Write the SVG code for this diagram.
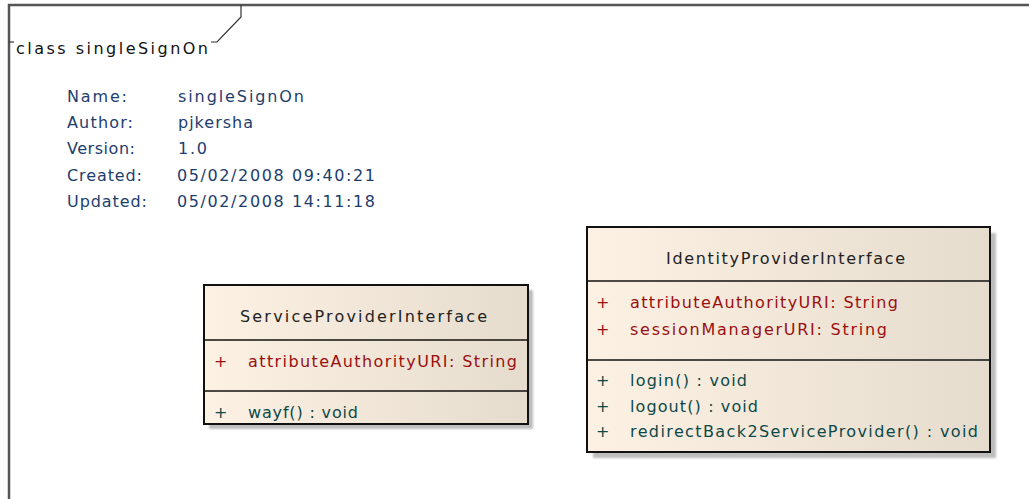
<svg xmlns="http://www.w3.org/2000/svg" width="1029" height="499" viewBox="0 0 1029 499">
  <style>
    text { font-family: "DejaVu Sans", Verdana, sans-serif; font-size: 16px; }
    .frame { fill: none; stroke: #555555; stroke-width: 2.5; }
    .tab { fill: none; stroke: #333333; stroke-width: 1.2; }
    .meta { fill: #1d3d6e; }
    .box { fill: url(#classFill); stroke: #111111; stroke-width: 2; }
    .shadow { fill: #bdbdbd; filter: url(#soft); }
    .divider { stroke: #111111; stroke-width: 1.5; }
    .cname { fill: #222222; }
    .attr { fill: #9a0f0f; }
    .oper { fill: #0c4848; }
  </style>
  <defs>
    <linearGradient id="classFill" x1="0" y1="0" x2="1" y2="0">
      <stop offset="0" stop-color="#fcf1e3"/>
      <stop offset="1" stop-color="#e6dccd"/>
    </linearGradient>
    <filter id="soft" x="-5%" y="-5%" width="110%" height="110%">
      <feGaussianBlur stdDeviation="1"/>
    </filter>
  </defs>

  <rect width="1029" height="499" fill="#ffffff"/>

  <!-- diagram frame with its name tab -->
  <g id="frame">
    <path class="frame" d="M9,499 V5 H1029"/>
    <path class="tab" d="M241,5 V17 L217,42 H211"/>
    <path class="tab" d="M9,42 H14"/>
    <text x="16" y="54" fill="#111111" textLength="192" lengthAdjust="spacing">class singleSignOn</text>
  </g>

  <!-- diagram properties -->
  <g id="properties" class="meta">
    <text class="meta" x="67" y="102" textLength="60" lengthAdjust="spacing">Name:</text>
    <text class="meta" x="67" y="128" textLength="66" lengthAdjust="spacing">Author:</text>
    <text class="meta" x="67" y="154" textLength="68" lengthAdjust="spacing">Version:</text>
    <text class="meta" x="67" y="181" textLength="75" lengthAdjust="spacing">Created:</text>
    <text class="meta" x="67" y="207" textLength="80" lengthAdjust="spacing">Updated:</text>
    <text class="meta" x="178" y="102" textLength="126" lengthAdjust="spacing">singleSignOn</text>
    <text class="meta" x="178" y="128" textLength="75" lengthAdjust="spacing">pjkersha</text>
    <text class="meta" x="178" y="154" textLength="29" lengthAdjust="spacing">1.0</text>
    <text class="meta" x="177" y="181" textLength="198" lengthAdjust="spacing">05/02/2008 09:40:21</text>
    <text class="meta" x="177" y="207" textLength="198" lengthAdjust="spacing">05/02/2008 14:11:18</text>
  </g>

  <!-- ServiceProviderInterface class -->
  <g id="ServiceProviderInterface">
    <rect class="shadow" x="209" y="290" width="324" height="139"/>
    <rect class="box" x="204" y="285" width="324" height="139"/>
    <line class="divider" x1="204" y1="340" x2="528" y2="340"/>
    <line class="divider" x1="204" y1="391" x2="528" y2="391"/>
    <text class="cname" x="240" y="322" textLength="247" lengthAdjust="spacing">ServiceProviderInterface</text>
    <text class="attr" x="214" y="367">+</text>
    <text class="attr" x="248" y="367" textLength="269" lengthAdjust="spacing">attributeAuthorityURI: String</text>
    <text class="oper" x="214" y="418">+</text>
    <text class="oper" x="248" y="418" textLength="110" lengthAdjust="spacing">wayf() : void</text>
  </g>

  <!-- IdentityProviderInterface class -->
  <g id="IdentityProviderInterface">
    <rect class="shadow" x="593" y="233" width="403" height="225"/>
    <rect class="box" x="587" y="227" width="403" height="225"/>
    <line class="divider" x1="587" y1="281" x2="990" y2="281"/>
    <line class="divider" x1="587" y1="360" x2="990" y2="360"/>
    <text class="cname" x="666" y="264" textLength="239" lengthAdjust="spacing">IdentityProviderInterface</text>
    <text class="attr" x="596" y="308">+</text>
    <text class="attr" x="630" y="308" textLength="268" lengthAdjust="spacing">attributeAuthorityURI: String</text>
    <text class="attr" x="596" y="335">+</text>
    <text class="attr" x="630" y="335" textLength="257" lengthAdjust="spacing">sessionManagerURI: String</text>
    <text class="oper" x="596" y="386">+</text>
    <text class="oper" x="630" y="386" textLength="117" lengthAdjust="spacing">login() : void</text>
    <text class="oper" x="596" y="412">+</text>
    <text class="oper" x="630" y="412" textLength="128" lengthAdjust="spacing">logout() : void</text>
    <text class="oper" x="596" y="437">+</text>
    <text class="oper" x="630" y="437" textLength="348" lengthAdjust="spacing">redirectBack2ServiceProvider() : void</text>
  </g>

  <!-- no associations are drawn between the classes -->
  <g id="connectors"/>
</svg>
